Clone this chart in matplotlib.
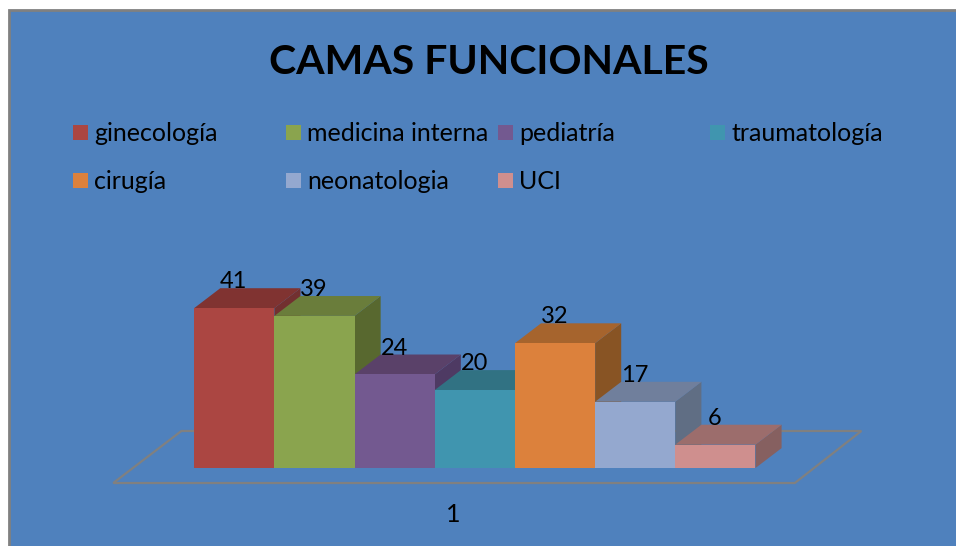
import matplotlib
matplotlib.use('Agg')
from matplotlib import pyplot as plt
from matplotlib.patches import Polygon, Rectangle

plt.rcParams['font.family'] = ['Lato', 'DejaVu Sans']

services = ['ginecología', 'medicina interna', 'pediatría', 'traumatología', 'cirugía', 'neonatologia', 'UCI']
beds = [41, 39, 24, 20, 32, 17, 6]
front_colors = ['#AB4642', '#8AA44E', '#735990', '#4095AF', '#DC813C', '#94A8CF', '#CF8F8E']
top_colors = ['#803331', '#6A7D3B', '#5A4169', '#317283', '#A6642D', '#707F9C', '#9C6D6C']
side_colors = ['#723030', '#58682F', '#4E3A63', '#2A6272', '#885424', '#606E84', '#866060']
category = '1'

BG = '#4F81BD'
GRAY = '#808080'
DEPTH_X = 0.325   # bar depth in x units
DEPTH_Y = 5.1     # bar depth in y units

fig = plt.figure(figsize=(9.56, 5.46), dpi=100, facecolor='white')

# panel with grey frame, runs off the right and bottom edge
panel = Rectangle((9 / 956, -5 / 546), 960 / 956, 541 / 546, transform=fig.transFigure,
                  facecolor=BG, edgecolor=GRAY, linewidth=2, zorder=-1)
fig.add_artist(panel)

ax = fig.add_axes([0, 0, 1, 1])
ax.patch.set_alpha(0)
ax.set_xlim(-2.922, 9.0)
ax.set_ylim(-20, 120)
ax.axis('off')

# floor of the 3d box
floor = [(-1.51, -3.85), (6.99, -3.85), (7.82, 9.49), (-0.66, 9.49)]
ax.add_patch(Polygon(floor, closed=True, fill=False, edgecolor=GRAY, linewidth=1.6, zorder=1))

xs = list(range(len(beds)))
ax.bar(xs, beds, width=0.998, color=front_colors, linewidth=0, zorder=3)

# left to right: the top of a bar covers the side of the bar before it
for i in xs:
    left, right = i - 0.5, i + 0.5
    v = beds[i]
    top = [(left, v), (right, v), (right + DEPTH_X, v + DEPTH_Y), (left + DEPTH_X, v + DEPTH_Y)]
    side = [(right, 0), (right + DEPTH_X, DEPTH_Y), (right + DEPTH_X, v + DEPTH_Y), (right, v)]
    ax.add_patch(Polygon(side, closed=True, facecolor=side_colors[i], linewidth=0, zorder=2 + i * 0.01))
    ax.add_patch(Polygon(top, closed=True, facecolor=top_colors[i], linewidth=0, zorder=2 + i * 0.01))
    ax.text(i + DEPTH_X / 2 - 0.17, v + DEPTH_Y - 1.05, str(v), ha='center', va='bottom', fontsize=17, color='black', zorder=5)

fig.text(488.5 / 956, 1 - 63 / 546, 'CAMAS FUNCIONALES', ha='center', va='center',
         fontsize=29.5, fontweight='bold', color='black')

# legend laid out by hand, two rows like the original
legend_x = [73, 286, 498, 710, 73, 286, 498]
legend_y = [132, 132, 132, 132, 180, 180, 180]
for name, color, lx, ly in zip(services, front_colors, legend_x, legend_y):
    fig.add_artist(Rectangle((lx / 956, 1 - (ly + 7.5) / 546), 15 / 956, 15 / 546,
                             transform=fig.transFigure, facecolor=color, linewidth=0))
    fig.text((lx + 21) / 956, 1 - (ly + 1.5) / 546, name, ha='left', va='center', fontsize=18, color='black')

fig.text(453 / 956, 1 - 515 / 546, category, ha='center', va='center', fontsize=18, color='black')

fig.savefig('out.png', dpi=100)
